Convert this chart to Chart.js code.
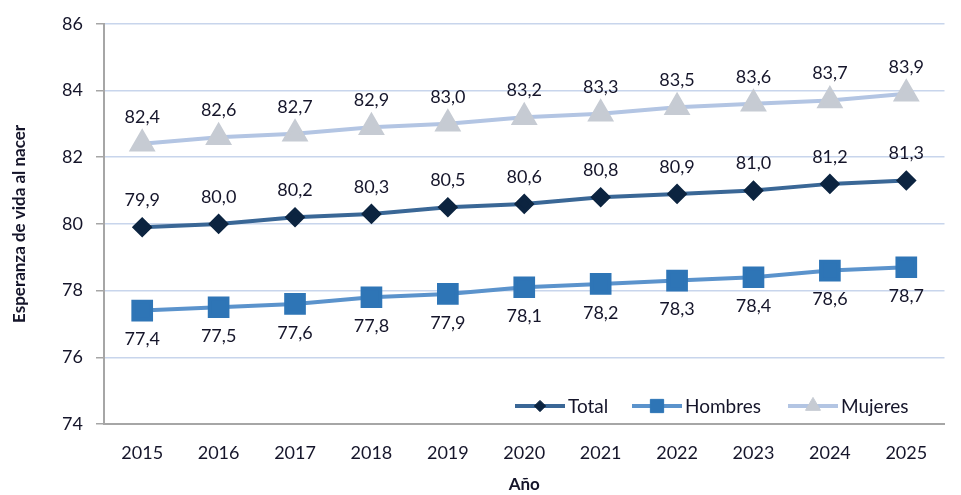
<!DOCTYPE html>
<html>
<head>
<meta charset="utf-8">
<script src="https://cdn.jsdelivr.net/npm/chart.js@4"></script>
<style>
  html,body{margin:0;padding:0;background:#fff;}
  #wrap{width:961px;height:495px;}
</style>
</head>
<body>
<div id="wrap"><canvas id="chart" width="961" height="495"></canvas></div>
<script>
const years = ['2015','2016','2017','2018','2019','2020','2021','2022','2023','2024','2025'];
const total = [79.9, 80.0, 80.2, 80.3, 80.5, 80.6, 80.8, 80.9, 81.0, 81.2, 81.3];
const hombres = [77.4, 77.5, 77.6, 77.8, 77.9, 78.1, 78.2, 78.3, 78.4, 78.6, 78.7];
const mujeres = [82.4, 82.6, 82.7, 82.9, 83.0, 83.2, 83.3, 83.5, 83.6, 83.7, 83.9];
const yTicks = [74, 76, 78, 80, 82, 84, 86];

const FONT = 'Lato, "DejaVu Sans", sans-serif';
const TXT = '#15152a';
const fmt = v => v.toFixed(1).replace('.', ',');

// value labels: above for Total/Mujeres, below for Hombres
const labelPlugin = {
  id: 'valueLabels',
  afterDatasetsDraw(chart){
    const ctx = chart.ctx;
    ctx.save();
    ctx.font = '18px ' + FONT;
    ctx.fillStyle = TXT;
    ctx.textAlign = 'center';
    ctx.textBaseline = 'middle';
    chart.data.datasets.forEach((ds, i)=>{
      const meta = chart.getDatasetMeta(i);
      const dy = ds.labelPos === 'below' ? 29 : -27;
      meta.data.forEach((pt, j)=>{
        ctx.fillText(fmt(ds.data[j]), pt.x, pt.y + dy);
      });
    });
    ctx.restore();
  }
};

// legend with line + marker, drawn inside plot bottom-right
const legendPlugin = {
  id: 'lineLegend',
  afterDraw(chart){
    const ctx = chart.ctx;
    const y = 406;
    const items = [
      {x: 515, ds: chart.data.datasets[0]},
      {x: 632, ds: chart.data.datasets[1]},
      {x: 788, ds: chart.data.datasets[2]}
    ];
    ctx.save();
    items.forEach(it=>{
      const ds = it.ds;
      ctx.strokeStyle = ds.borderColor;
      ctx.lineWidth = 4;
      ctx.beginPath(); ctx.moveTo(it.x, y); ctx.lineTo(it.x + 50, y); ctx.stroke();
      ctx.fillStyle = ds.pointBackgroundColor;
      ctx.strokeStyle = ds.pointBorderColor;
      ctx.lineWidth = 1;
      Chart.helpers.drawPoint(ctx, {pointStyle: ds.pointStyle, rotation: 0, radius: ds.pointRadius * 0.75, borderWidth: 1}, it.x + 25, y);
      ctx.font = '19px ' + FONT;
      ctx.fillStyle = TXT;
      ctx.textAlign = 'left';
      ctx.textBaseline = 'middle';
      ctx.fillText(ds.label, it.x + 53, y + 1);
    });
    ctx.restore();
  }
};

new Chart(document.getElementById('chart'), {
  type: 'line',
  data: {
    labels: years,
    datasets: [
      {label:'Total', data: total, borderColor:'#3a6796', borderWidth:4,
       pointStyle:'rectRot', pointRadius:7.5, pointBackgroundColor:'#0c2440', pointBorderColor:'#0c2440', labelPos:'above'},
      {label:'Hombres', data: hombres, borderColor:'#5b93cc', borderWidth:4,
       pointStyle:'rect', pointRadius:12.5, pointBackgroundColor:'#2e75b6', pointBorderColor:'#2e75b6', labelPos:'below'},
      {label:'Mujeres', data: mujeres, borderColor:'#b3c5e3', borderWidth:4,
       pointStyle:'triangle', pointRadius:11.5, pointBackgroundColor:'#c6cbd3', pointBorderColor:'#c6cbd3', labelPos:'above'}
    ]
  },
  options: {
    responsive:false,
    animation:false,
    layout:{ padding:{ top:11, right:1, left:0, bottom:0 } },
    plugins:{ legend:{display:false}, tooltip:{enabled:false} },
    scales:{
      x:{
        offset:true,
        afterFit(axis){ axis.height = 71; },
        grid:{ display:false },
        border:{ color:'#a6a6a6', width:2 },
        ticks:{ font:{family:FONT, size:18}, color:TXT, padding:10 },
        title:{ display:true, text:'Año', font:{family:FONT, size:17, weight:'bold'}, color:TXT, padding:{top:4, bottom:0} }
      },
      y:{
        min:74, max:86,
        afterBuildTicks(axis){ axis.ticks = yTicks.map(v=>({value:v})); },
        afterFit(axis){ axis.width = 104; },
        grid:{ color:'#c8d5ec', lineWidth:1.5, tickColor:'#a6a6a6', tickLength:8, drawTicks:true },
        border:{ color:'#a6a6a6', width:2 },
        ticks:{ font:{family:FONT, size:18}, color:TXT, padding:13 },
        title:{ display:true, text:'Esperanza de vida al nacer', font:{family:FONT, size:17, weight:'bold'}, color:TXT, padding:{top:9, bottom:4} }
      }
    }
  },
  plugins:[labelPlugin, legendPlugin]
});
</script>
</body>
</html>
